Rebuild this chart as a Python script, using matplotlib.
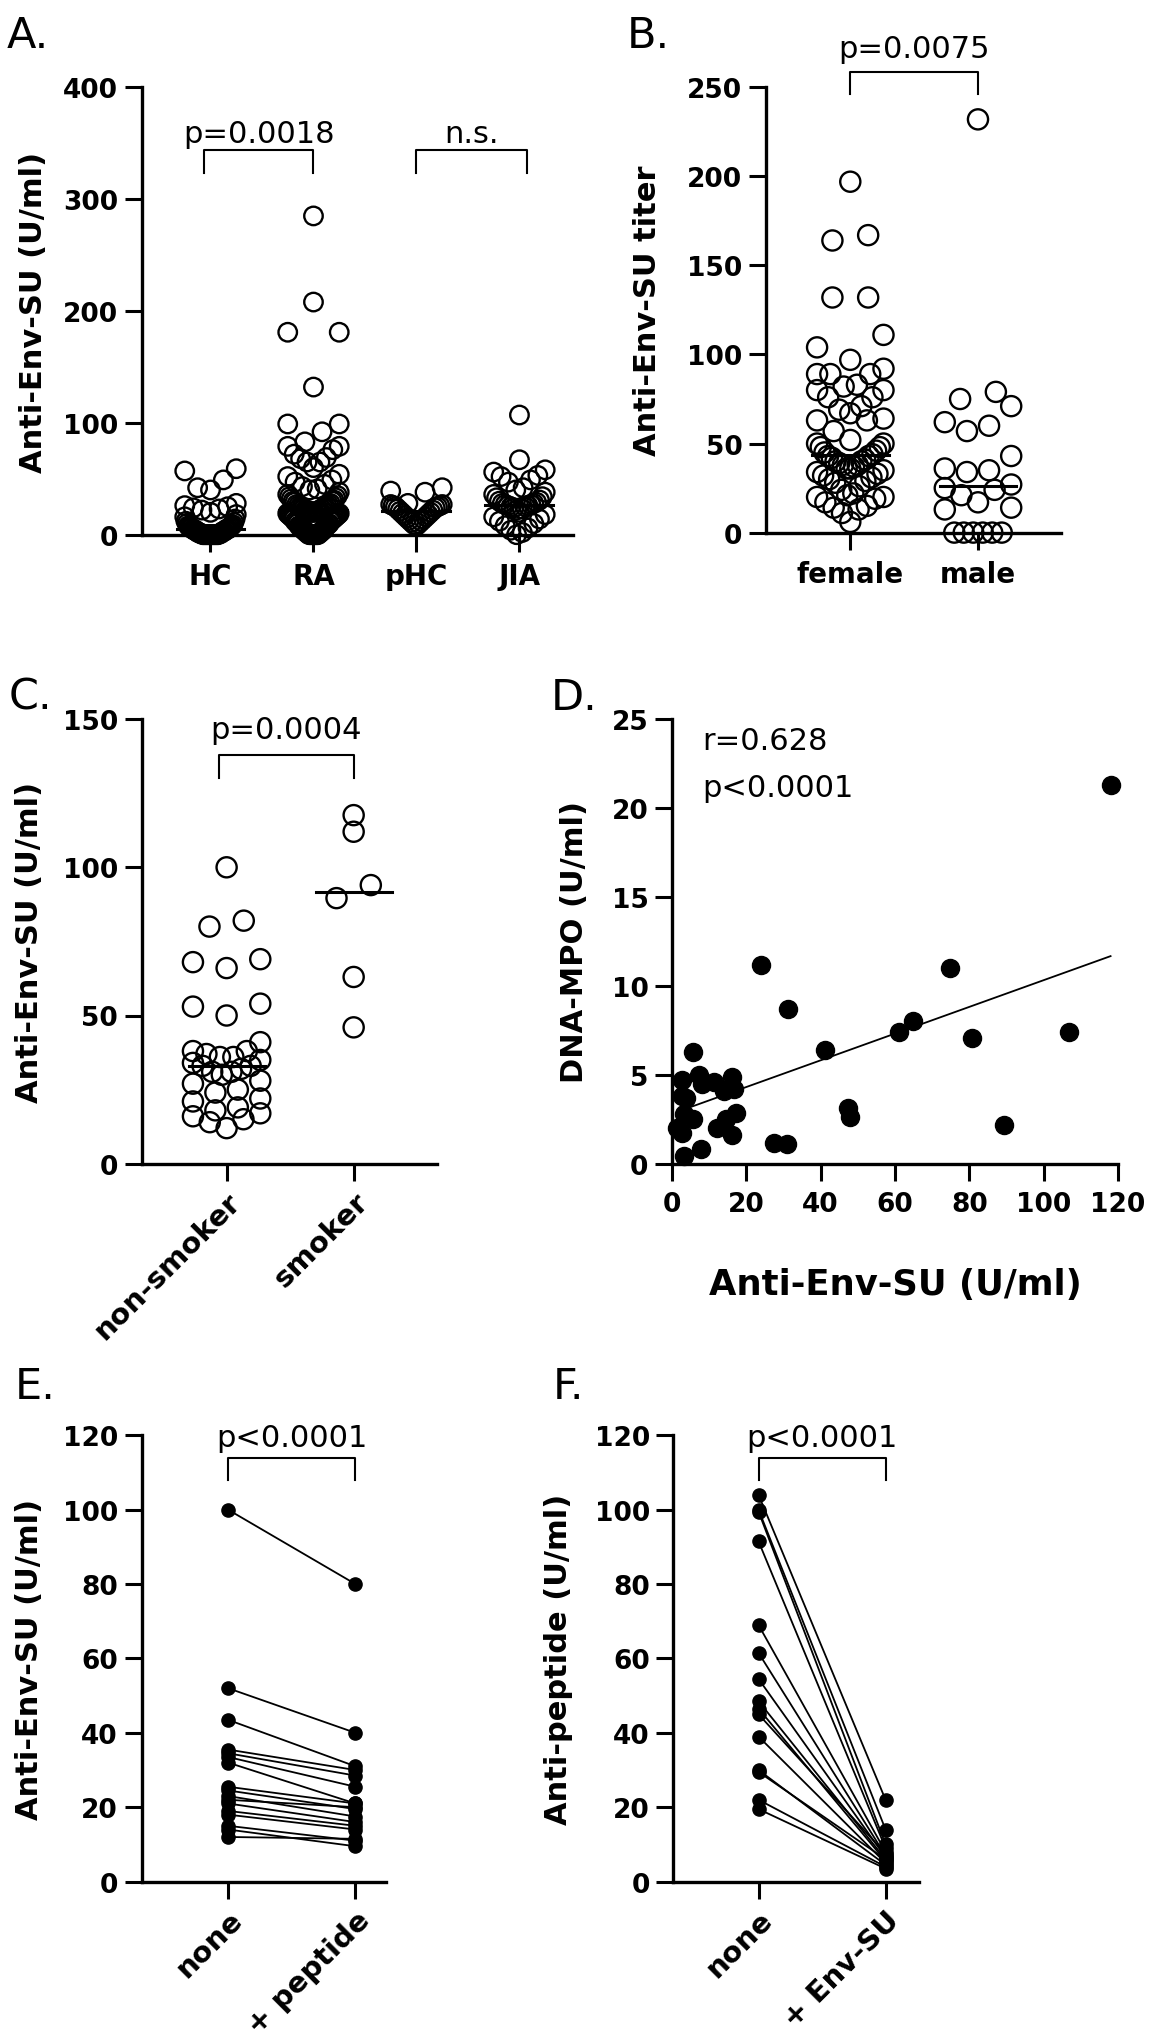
import numpy as np
import matplotlib
matplotlib.use('Agg')
import matplotlib.pyplot as plt

# ---- data ----
# A: anti-Env-SU by cohort
a_groups = ['HC', 'RA', 'pHC', 'JIA']
a_hc = [59, 57, 49, 42, 40, 28, 26, 25, 24, 23, 22, 20, 18, 16, 14, 12, 11, 10, 9, 8,
        8, 7, 7, 6, 6, 6, 5, 5, 5, 4, 4, 4, 3, 3, 3, 2, 2, 2, 1, 1, 1, 1, 0, 0, 0, 0,
        0, 0, 0, 0, 0, 0, 0, 0, 0, 0]
a_ra = [285, 208, 181, 181, 132, 99, 99, 92, 83, 79, 79, 76, 72, 69, 68, 65, 65, 60,
        54, 52, 49, 47, 45, 43, 41, 40, 38, 36, 35, 34, 33, 32, 31, 30, 30, 29, 28, 27,
        27, 26, 26, 25, 25, 24, 24, 23, 23, 22, 22, 22, 21, 21, 21, 20, 20, 20, 19, 19,
        18, 18, 17, 17, 16, 16, 15, 15, 14, 14, 13, 12, 12, 11, 10, 10, 9, 8, 8, 7, 7,
        6, 5, 5, 4, 4, 3, 3, 2, 2, 1, 1, 0, 0, 0, 0, 0, 0, 0, 0]
a_phc = [42, 39, 38, 28, 27, 27, 26, 26, 25, 25, 24, 23, 22, 21, 20, 19, 18, 17, 16,
         15, 14, 13, 12, 11, 10, 9, 8]
a_jia = [107, 67, 58, 56, 53, 52, 49, 47, 42, 40, 38, 36, 34, 33, 31, 30, 29, 28, 28,
         27, 27, 26, 26, 25, 25, 24, 23, 22, 20, 18, 16, 14, 12, 10, 8, 6, 4, 2, 0]

# B: by sex
b_groups = ['female', 'male']
b_female = [197, 167, 164, 132, 132, 111, 104, 97, 92, 89, 89, 89, 83, 82, 80, 80, 76,
            76, 71, 69, 67, 64, 63, 63, 57, 52, 50, 50, 48, 48, 46, 45, 44, 43, 43, 42,
            41, 40, 40, 39, 38, 38, 37, 36, 36, 35, 34, 33, 32, 31, 30, 29, 28, 26, 24,
            22, 21, 20, 20, 19, 17, 15, 14, 13, 11, 6]
b_male = [232, 79, 75, 71, 62, 60, 57, 43, 36, 35, 34, 27, 25, 24, 21, 17, 14, 13,
          0, 0, 0, 0, 0, 0]

# C: smoking
c_groups = ['non-smoker', 'smoker']
c_non = [100, 82, 80, 69, 68, 66, 54, 53, 50, 41, 38, 38, 37, 36, 36, 35, 34, 33, 33,
         32, 31, 31, 30, 28, 27, 25, 24, 22, 21, 19, 18, 17, 16, 15, 14, 12]
c_smoker = [117.6, 112, 94, 89.6, 63, 46]

# D: correlation
d_x = [118, 24, 74.8, 31.3, 64.9, 61.1, 106.9, 80.6, 41.1, 5.7, 89.3, 47.3, 47.8, 27.5,
       31, 2.8, 7.2, 8.2, 11.2, 14.1, 16.1, 16.6, 3.8, 3.3, 5.7, 17.1, 14.6, 12.2,
       16.1, 2.8, 1.3, 7.7, 3.3, 2.8]
d_y = [21.3, 11.2, 11.0, 8.7, 8.0, 7.4, 7.4, 7.05, 6.4, 6.3, 2.2, 3.15, 2.6, 1.15,
       1.1, 4.7, 5.0, 4.5, 4.6, 4.1, 4.85, 4.2, 3.7, 2.8, 2.5, 2.85, 2.5, 2.0, 1.6,
       1.7, 2.0, 0.85, 0.45, 3.8]
fit_slope = 0.0751
fit_intercept = 2.81

# E / F: paired inhibition
e_groups = ['none', '+ peptide']
e_none = [100, 52, 43.5, 35.5, 34.5, 33.5, 32, 25.5, 24.5, 23, 22, 21, 19, 18, 15, 14, 12]
e_pep = [80, 40, 31, 30, 28.5, 25.5, 21, 21, 19.5, 17.5, 20, 16, 15, 14, 11, 9.5, 11.5]
f_groups = ['none', '+ Env-SU']
f_none = [104, 100, 99.5, 91.5, 69, 61.5, 54.5, 48.5, 46.5, 45, 39, 30, 29.5, 22, 19.5]
f_env = [22, 14, 10, 9, 8, 7, 6.5, 6, 5.5, 7.5, 5, 4.5, 6, 4, 3.5]

W, H = 1152, 2040
fig = plt.figure(figsize=(W / 100, H / 100), dpi=100)

TICK_FS = 19
LAB_FS = 22


def rect(l, t, r, b):
    return [l / W, 1 - b / H, (r - l) / W, (b - t) / H]


def style(ax, xlim, ylim, yticks):
    ax.set_xlim(*xlim)
    ax.set_ylim(*ylim)
    ax.set_yticks(yticks)
    for s in ['top', 'right']:
        ax.spines[s].set_visible(False)
    for s in ['left', 'bottom']:
        ax.spines[s].set_linewidth(2.4)
    ax.tick_params(direction='out', length=12, width=2.2, labelsize=TICK_FS)
    ax.tick_params(axis='y', pad=5)
    ax.tick_params(axis='x', pad=8)
    for lab in ax.get_yticklabels():
        lab.set_fontweight('bold')


def swarm_x(vals, center, bin_h, step, half):
    # GraphPad-like rows: group values greedily into rows of height bin_h,
    # lowest value of a row in the middle, higher ones pushed outwards (V shape)
    vals = np.asarray(vals, float)
    xs = np.zeros_like(vals)
    order = np.argsort(vals, kind='stable')
    rows, cur, start = [], [], None
    for i in order:
        if cur and vals[i] - start >= bin_h:
            rows.append(cur)
            cur = []
        if not cur:
            start = vals[i]
        cur.append(i)
    rows.append(cur)
    for idx in rows:
        n = len(idx)
        sp = step if n < 2 else min(step, 2 * half / (n - 1))
        pos = (np.arange(n) - (n - 1) / 2) * sp
        pos = pos[np.argsort(np.abs(pos), kind='stable')]
        xs[idx] = center + pos
    return xs


def dotcol(ax, groups, bin_h, step, half, ms, mhalf):
    for i, vals in enumerate(groups):
        xs = swarm_x(vals, i, bin_h, step, half)
        ax.scatter(xs, vals, s=ms ** 2, facecolors='none', edgecolors='black',
                   linewidths=1.7, clip_on=False, zorder=3)
        med = np.median(vals)
        ax.plot([i - mhalf, i + mhalf], [med, med], color='black', lw=2.2, zorder=4,
                clip_on=False)


def bracket(ax, x0, x1, ytop, yleg, text, ty):
    ax.plot([x0, x0, x1, x1], [yleg, ytop, ytop, yleg], color='black', lw=1.5,
            clip_on=False)
    ax.text((x0 + x1) / 2, ty, text, ha='center', va='baseline', fontsize=22)


def ylabel(ax, text, xfrac):
    # xfrac is the right edge of the rotated label, in axes fraction
    ax.set_ylabel(text, fontsize=LAB_FS, fontweight='bold')
    ax.yaxis.set_label_coords(xfrac, 0.5)


def xcats(ax, labels, rotate=False):
    ax.set_xticks(range(len(labels)))
    if rotate:
        ax.set_xticklabels(labels, rotation=45, ha='right', va='top',
                           rotation_mode='anchor', fontweight='bold', fontsize=21)
        ax.tick_params(axis='x', pad=5)
    else:
        ax.set_xticklabels(labels, fontweight='bold', fontsize=20)


# ---- A ----
axA = fig.add_axes(rect(141.5, 88.3, 573, 535.7))
dotcol(axA, [a_hc, a_ra, a_phc, a_jia], 20, 0.5, 0.25, 13.3, 0.33)
style(axA, (-0.67, 3.52), (0, 400), [0, 100, 200, 300, 400])
xcats(axA, a_groups)
ylabel(axA, 'Anti-Env-SU (U/ml)', -0.217)
bracket(axA, -0.06, 1.0, 343.7, 323.4, 'p=0.0018', 351)
bracket(axA, 2.0, 3.07, 343.7, 323.4, 'n.s.', 351)

# ---- B ----
axB = fig.add_axes(rect(766, 88.3, 1061, 533.6))
dotcol(axB, [b_female, b_male], 15, 0.28, 0.26, 14.5, 0.3)
style(axB, (-0.66, 1.65), (0, 250), [0, 50, 100, 150, 200, 250])
xcats(axB, b_groups)
ylabel(axB, 'Anti-Env-SU titer', -0.351)
bracket(axB, 0, 1, 258.8, 246, 'p=0.0075', 267)

# ---- C ----
axC = fig.add_axes(rect(141.5, 720.1, 437.5, 1164.7))
dotcol(axC, [c_non, c_smoker], 5.2, 0.27, 0.265, 14.5, 0.3)
style(axC, (-0.67, 1.66), (0, 150), [0, 50, 100, 150])
xcats(axC, c_groups, rotate=True)
ylabel(axC, 'Anti-Env-SU (U/ml)', -0.329)
bracket(axC, -0.06, 1.0, 138, 130, 'p=0.0004', 143.5)

# ---- D ----
axD = fig.add_axes(rect(672, 720.1, 1118, 1164.7))
axD.scatter(d_x, d_y, s=13 ** 2, color='black', clip_on=False, zorder=3)
fx = np.array([min(d_x), max(d_x)])
axD.plot(fx, fit_intercept + fit_slope * fx, color='black', lw=1.3, zorder=2)
style(axD, (0, 120), (0, 25), [0, 5, 10, 15, 20, 25])
axD.set_xticks([0, 20, 40, 60, 80, 100, 120])
for lab in axD.get_xticklabels():
    lab.set_fontweight('bold')
ylabel(axD, 'DNA-MPO (U/ml)', -0.186)
axD.set_xlabel('Anti-Env-SU (U/ml)', fontsize=25.5, fontweight='bold')
axD.xaxis.set_label_coords(0.5, -0.232)
axD.text(8.2, 23.3, 'r=0.628', fontsize=22, va='baseline')
axD.text(8.2, 20.66, 'p<0.0001', fontsize=22, va='baseline')


# ---- E / F ----
def paired(ax, before, after):
    for a, b in zip(before, after):
        ax.plot([0, 1], [a, b], '-o', color='black', ms=9.5, lw=1.3, clip_on=False,
                zorder=3)


axE = fig.add_axes(rect(141.5, 1436.3, 386, 1882.6))
paired(axE, e_none, e_pep)
style(axE, (-0.68, 1.24), (0, 120), [0, 20, 40, 60, 80, 100, 120])
xcats(axE, e_groups, rotate=True)
ylabel(axE, 'Anti-Env-SU (U/ml)', -0.399)
bracket(axE, 0, 1, 113.9, 108, 'p<0.0001', 117.2)

axF = fig.add_axes(rect(673.4, 1436.3, 918.6, 1882.6))
paired(axF, f_none, f_env)
style(axF, (-0.67, 1.26), (0, 120), [0, 20, 40, 60, 80, 100, 120])
xcats(axF, f_groups, rotate=True)
ylabel(axF, 'Anti-peptide (U/ml)', -0.409)
bracket(axF, 0, 1, 113.9, 108, 'p<0.0001', 117.2)

# panel letters
for letter, x, y in [('A.', 7, 47.7), ('B.', 627, 47.7), ('C.', 9, 710),
                     ('D.', 551, 710), ('E.', 15, 1399), ('F.', 553, 1399)]:
    fig.text(x / W, 1 - y / H, letter, fontsize=31, va='baseline', ha='left')

fig.savefig('out.png', dpi=100)
